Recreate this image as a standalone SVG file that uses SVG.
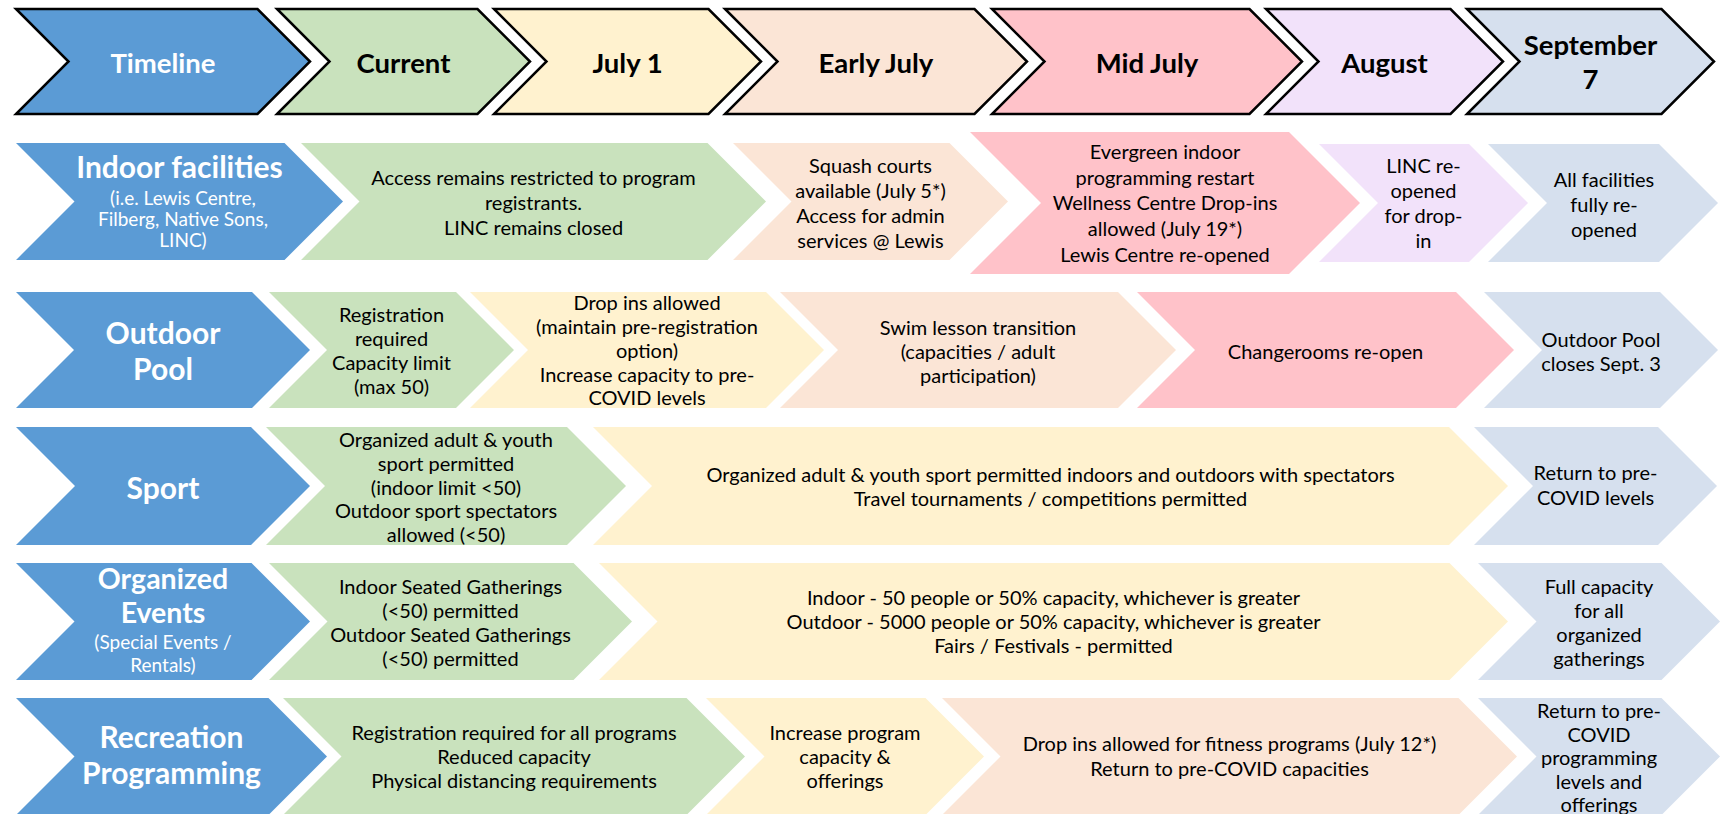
<svg xmlns="http://www.w3.org/2000/svg" width="1720" height="814" viewBox="0 0 1720 814">
  <style>
    text { font-family: Lato, "Liberation Sans", sans-serif; text-anchor: middle; dominant-baseline: central; }
    .hd polygon { stroke: #000; stroke-width: 2.5; stroke-linejoin: miter; }
    .hd text { font-size: 27.5px; font-weight: bold; fill: #000; }
    .t { font-size: 20px; fill: #000; }
    .ttl { font-size: 30px; font-weight: bold; fill: #fff; }
    .ttl2 { font-size: 28.5px; font-weight: bold; fill: #fff; }
    .sub { font-size: 19px; fill: #fff; }
    .blue { fill: #5B9BD5; }
    .green { fill: #C9E2BD; }
    .yellow { fill: #FFF2CF; }
    .peach { fill: #FBE5D6; }
    .pink { fill: #FFC2C9; }
    .lav { fill: #F2E2FA; }
    .grey { fill: #D6E0EE; }
  </style>

  <!-- header: timeline phases -->
  <g id="hdr-timeline" class="hd">
    <polygon class="blue" points="16,9 257.5,9 310,61.5 257.5,114 16,114 68.5,61.5"/>
    <text x="163" y="62" style="fill:#fff">Timeline</text>
  </g>
  <g id="hdr-current" class="hd">
    <polygon class="green" points="277,9 477.5,9 530,61.5 477.5,114 277,114 329.5,61.5"/>
    <text x="403.5" y="62">Current</text>
  </g>
  <g id="hdr-july1" class="hd">
    <polygon class="yellow" points="494,9 708.5,9 761,61.5 708.5,114 494,114 546.5,61.5"/>
    <text x="627.5" y="62">July 1</text>
  </g>
  <g id="hdr-early-july" class="hd">
    <polygon class="peach" points="725,9 974.5,9 1027,61.5 974.5,114 725,114 777.5,61.5"/>
    <text x="876" y="62">Early July</text>
  </g>
  <g id="hdr-mid-july" class="hd">
    <polygon class="pink" points="992,9 1249.5,9 1302,61.5 1249.5,114 992,114 1044.5,61.5"/>
    <text x="1147" y="62">Mid July</text>
  </g>
  <g id="hdr-august" class="hd">
    <polygon class="lav" points="1266,9 1450.5,9 1503,61.5 1450.5,114 1266,114 1318.5,61.5"/>
    <text x="1384.5" y="62">August</text>
  </g>
  <g id="hdr-september" class="hd">
    <polygon class="grey" points="1467,9 1661.5,9 1714,61.5 1661.5,114 1467,114 1519.5,61.5"/>
    <text x="1590.5" y="44">September</text>
    <text x="1590.5" y="78">7</text>
  </g>

  <!-- row: indoor facilities -->
  <g id="indoor-title">
    <polygon class="blue" points="16,143 284.5,143 343,201.5 284.5,260 16,260 74.5,201.5"/>
    <text class="ttl" x="179.5" y="166">Indoor facilities</text>
    <text class="sub" x="183" y="197">(i.e. Lewis Centre,</text>
    <text class="sub" x="183" y="218">Filberg, Native Sons,</text>
    <text class="sub" x="183" y="239">LINC)</text>
  </g>
  <g id="indoor-current">
    <polygon class="green" points="301,143 707.5,143 766,201.5 707.5,260 301,260 359.5,201.5"/>
    <text class="t" x="533.5" y="177">Access remains restricted to program</text>
    <text class="t" x="533.5" y="202">registrants.</text>
    <text class="t" x="533.5" y="227">LINC remains closed</text>
  </g>
  <g id="indoor-early-july">
    <polygon class="peach" points="733,143 949.5,143 1008,201.5 949.5,260 733,260 791.5,201.5"/>
    <text class="t" x="870.5" y="165">Squash courts</text>
    <text class="t" x="870.5" y="190">available (July 5*)</text>
    <text class="t" x="870.5" y="215">Access for admin</text>
    <text class="t" x="870.5" y="240">services @ Lewis</text>
  </g>
  <g id="indoor-mid-july">
    <polygon class="pink" points="970,132 1289,132 1360,203 1289,274 970,274 1041,203"/>
    <text class="t" x="1165" y="151">Evergreen indoor</text>
    <text class="t" x="1165" y="177">programming restart</text>
    <text class="t" x="1165" y="202">Wellness Centre Drop-ins</text>
    <text class="t" x="1165" y="228">allowed (July 19*)</text>
    <text class="t" x="1165" y="254">Lewis Centre re-opened</text>
  </g>
  <g id="indoor-august">
    <polygon class="lav" points="1319,144 1469,144 1528,203 1469,262 1319,262 1378,203"/>
    <text class="t" x="1423.5" y="165">LINC re-</text>
    <text class="t" x="1423.5" y="190">opened</text>
    <text class="t" x="1423.5" y="215">for drop-</text>
    <text class="t" x="1423.5" y="240">in</text>
  </g>
  <g id="indoor-september">
    <polygon class="grey" points="1488,144 1659,144 1718,203 1659,262 1488,262 1547,203"/>
    <text class="t" x="1604" y="179">All facilities</text>
    <text class="t" x="1604" y="204">fully re-</text>
    <text class="t" x="1604" y="229">opened</text>
  </g>

  <!-- row: outdoor pool -->
  <g id="pool-title">
    <polygon class="blue" points="16,292 252,292 310,350 252,408 16,408 74,350"/>
    <text class="ttl" x="163" y="332">Outdoor</text>
    <text class="ttl" x="163" y="368">Pool</text>
  </g>
  <g id="pool-current">
    <polygon class="green" points="269,292 456,292 514,350 456,408 269,408 327,350"/>
    <text class="t" x="391.5" y="314">Registration</text>
    <text class="t" x="391.5" y="338">required</text>
    <text class="t" x="391.5" y="362">Capacity limit</text>
    <text class="t" x="391.5" y="386">(max 50)</text>
  </g>
  <g id="pool-july1">
    <polygon class="yellow" points="470,292 766,292 824,350 766,408 470,408 528,350"/>
    <text class="t" x="647" y="302">Drop ins allowed</text>
    <text class="t" x="647" y="326">(maintain pre-registration</text>
    <text class="t" x="647" y="350">option)</text>
    <text class="t" x="647" y="374">Increase capacity to pre-</text>
    <text class="t" x="647" y="397">COVID levels</text>
  </g>
  <g id="pool-early-july">
    <polygon class="peach" points="780,292 1118,292 1176,350 1118,408 780,408 838,350"/>
    <text class="t" x="978" y="327">Swim lesson transition</text>
    <text class="t" x="978" y="351">(capacities / adult</text>
    <text class="t" x="978" y="375">participation)</text>
  </g>
  <g id="pool-mid-july">
    <polygon class="pink" points="1137,292 1456,292 1514,350 1456,408 1137,408 1195,350"/>
    <text class="t" x="1325.5" y="351">Changerooms re-open</text>
  </g>
  <g id="pool-september">
    <polygon class="grey" points="1484,292 1660,292 1718,350 1660,408 1484,408 1542,350"/>
    <text class="t" x="1601" y="339">Outdoor Pool</text>
    <text class="t" x="1601" y="363">closes Sept. 3</text>
  </g>

  <!-- row: sport -->
  <g id="sport-title">
    <polygon class="blue" points="16,427 251,427 310,486 251,545 16,545 75,486"/>
    <text class="ttl" x="163" y="487">Sport</text>
  </g>
  <g id="sport-current">
    <polygon class="green" points="266,427 567,427 626,486 567,545 266,545 325,486"/>
    <text class="t" x="446" y="439">Organized adult &amp; youth</text>
    <text class="t" x="446" y="463">sport permitted</text>
    <text class="t" x="446" y="487">(indoor limit &lt;50)</text>
    <text class="t" x="446" y="510">Outdoor sport spectators</text>
    <text class="t" x="446" y="534">allowed (&lt;50)</text>
  </g>
  <g id="sport-july">
    <polygon class="yellow" points="593,427 1449,427 1508,486 1449,545 593,545 652,486"/>
    <text class="t" x="1050.5" y="474">Organized adult &amp; youth sport permitted indoors and outdoors with spectators</text>
    <text class="t" x="1050.5" y="498">Travel tournaments / competitions permitted</text>
  </g>
  <g id="sport-september">
    <polygon class="grey" points="1474,427 1658,427 1717,486 1658,545 1474,545 1533,486"/>
    <text class="t" x="1595.5" y="472">Return to pre-</text>
    <text class="t" x="1595.5" y="497">COVID levels</text>
  </g>

  <!-- row: organized events -->
  <g id="events-title">
    <polygon class="blue" points="16,563 251.5,563 310,621.5 251.5,680 16,680 74.5,621.5"/>
    <text class="ttl2" x="163" y="578">Organized</text>
    <text class="ttl2" x="163" y="612">Events</text>
    <text class="sub" x="163" y="641">(Special Events /</text>
    <text class="sub" x="163" y="664">Rentals)</text>
  </g>
  <g id="events-current">
    <polygon class="green" points="269,563 573.5,563 632,621.5 573.5,680 269,680 327.5,621.5"/>
    <text class="t" x="450.5" y="586">Indoor Seated Gatherings</text>
    <text class="t" x="450.5" y="610">(&lt;50) permitted</text>
    <text class="t" x="450.5" y="634">Outdoor Seated Gatherings</text>
    <text class="t" x="450.5" y="658">(&lt;50) permitted</text>
  </g>
  <g id="events-july">
    <polygon class="yellow" points="599,563 1449.5,563 1508,621.5 1449.5,680 599,680 657.5,621.5"/>
    <text class="t" x="1053.5" y="597">Indoor - 50 people or 50% capacity, whichever is greater</text>
    <text class="t" x="1053.5" y="621">Outdoor - 5000 people or 50% capacity, whichever is greater</text>
    <text class="t" x="1053.5" y="645">Fairs / Festivals - permitted</text>
  </g>
  <g id="events-september">
    <polygon class="grey" points="1478,563 1661.5,563 1720,621.5 1661.5,680 1478,680 1536.5,621.5"/>
    <text class="t" x="1599" y="586">Full capacity</text>
    <text class="t" x="1599" y="610">for all</text>
    <text class="t" x="1599" y="634">organized</text>
    <text class="t" x="1599" y="658">gatherings</text>
  </g>

  <!-- row: recreation programming -->
  <g id="rec-title">
    <polygon class="blue" points="16,698 268.5,698 327,756.5 268.5,815 16,815 74.5,756.5"/>
    <text class="ttl" x="171.5" y="736">Recreation</text>
    <text class="ttl" x="171.5" y="772">Programming</text>
  </g>
  <g id="rec-current">
    <polygon class="green" points="283,698 686.5,698 745,756.5 686.5,815 283,815 341.5,756.5"/>
    <text class="t" x="514" y="732">Registration required for all programs</text>
    <text class="t" x="514" y="756">Reduced capacity</text>
    <text class="t" x="514" y="780">Physical distancing requirements</text>
  </g>
  <g id="rec-july1">
    <polygon class="yellow" points="706,698 925.5,698 984,756.5 925.5,815 706,815 764.5,756.5"/>
    <text class="t" x="845" y="732">Increase program</text>
    <text class="t" x="845" y="756">capacity &amp;</text>
    <text class="t" x="845" y="780">offerings</text>
  </g>
  <g id="rec-mid-july">
    <polygon class="peach" points="942,698 1458.5,698 1517,756.5 1458.5,815 942,815 1000.5,756.5"/>
    <text class="t" x="1229.5" y="743">Drop ins allowed for fitness programs (July 12*)</text>
    <text class="t" x="1229.5" y="768">Return to pre-COVID capacities</text>
  </g>
  <g id="rec-september">
    <polygon class="grey" points="1478,698 1661.5,698 1720,756.5 1661.5,815 1478,815 1536.5,756.5"/>
    <text class="t" x="1599" y="710">Return to pre-</text>
    <text class="t" x="1599" y="734">COVID</text>
    <text class="t" x="1599" y="757">programming</text>
    <text class="t" x="1599" y="781">levels and</text>
    <text class="t" x="1599" y="804">offerings</text>
  </g>
</svg>
